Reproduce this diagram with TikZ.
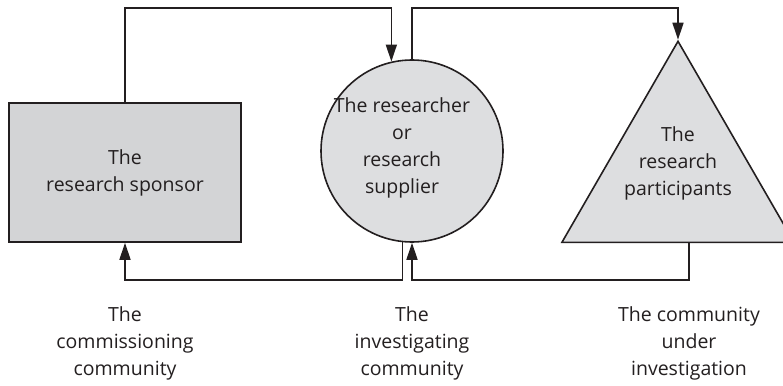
\documentclass[tikz,border=0pt]{standalone}
\usepackage{fontspec}
\setmainfont{Open Sans}
\usetikzlibrary{arrows.meta,shapes.geometric,calc}
\definecolor{sponsorgray}{RGB}{211,212,214}
\definecolor{shapegray}{RGB}{221,222,224}
\definecolor{inkgray}{RGB}{35,31,32}
\tikzset{
    shapebox/.style={draw=inkgray,line width=1.6pt,inner sep=0pt,align=center,text=inkgray},
    flow/.style={draw=inkgray,line width=1.6pt},
    flowarrow/.style={flow,-{Triangle[length=17pt,width=11pt]}},
    caption/.style={align=center,text=inkgray}
}
\begin{document}
\begin{tikzpicture}[x=1pt,y=-1pt,font=\fontsize{19.5}{27}\selectfont]
                \useasboundingbox (0,0) rectangle (783,385);
                \node[shapebox,fill=sponsorgray,rectangle,minimum width=232pt,minimum height=139pt] (sponsor) at (125,172.5) {The\\research sponsor};
                \node[shapebox,fill=shapegray,circle,minimum size=182pt] (researcher) at (412,151) {};
                \node[text=inkgray,align=center] (researchertext) at (402,148) {The researcher\\or\\research\\supplier};
                \node[shapebox,fill=shapegray,regular polygon,regular polygon sides=3,minimum size=268pt] (participants) at (678,175.3) {};
                \node[text=inkgray,align=center] (participantstext) at (678,163) {The\\research\\participants};
                \coordinate (toprow) at (0,8);
                \coordinate (botrow) at (0,280);
                \coordinate (partout) at ($(participants.side 2)+(11,0)$);
                \draw[flowarrow] (sponsor.north) -- (sponsor.north |- toprow) -| (researcher.103);
                \draw[flowarrow] (researcher.north) -- (researcher.north |- toprow) -| (participants.corner 1);
                \draw[flowarrow] (researcher.264) -- (researcher.264 |- botrow) -| (sponsor.south);
                \draw[flowarrow] (partout) -- (partout |- botrow) -| (researcher.south);
                \node[caption] (commissioning) at (125,343) {The\\commissioning\\community};
                \node[caption] (investigating) at (412,343) {The\\investigating\\community};
                \node[caption] (investigation) at (689,343) {The community\\under\\investigation};
            \end{tikzpicture}
\end{document}
